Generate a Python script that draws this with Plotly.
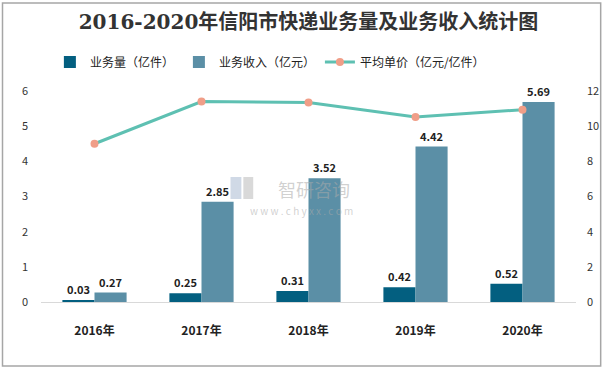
import plotly.graph_objects as go

years = ["2016年", "2017年", "2018年", "2019年", "2020年"]
volume = [0.03, 0.25, 0.31, 0.42, 0.52]
revenue = [0.27, 2.85, 3.52, 4.42, 5.69]
unit_price = [9.0, 11.4, 11.35, 10.52, 10.94]
left_ticks = [0, 1, 2, 3, 4, 5, 6]
right_ticks = [0, 2, 4, 6, 8, 10, 12]

font_cjk = "Noto Sans CJK SC"

L, R, T, B = 41, 28, 91, 67
PW, PH = 611 - L - R, 369 - T - B


def px(x):
    return (x - L) / PW


def py(y):
    return (369 - B - y) / PH


fig = go.Figure()
fig.add_trace(go.Bar(
    x=years, y=volume, name="业务量（亿件）",
    marker=dict(color="#035f80", line=dict(width=0)),
    text=[f"<b>{v:.2f}</b>" for v in volume], textposition="outside",
    textfont=dict(size=11, color="#222", family=font_cjk), cliponaxis=False,
))
fig.add_trace(go.Bar(
    x=years, y=revenue, name="业务收入（亿元）",
    marker=dict(color="#5b8fa6", line=dict(width=0)),
    text=[f"<b>{v:.2f}</b>" for v in revenue], textposition="outside",
    textfont=dict(size=11, color="#222", family=font_cjk), cliponaxis=False,
))
fig.add_trace(go.Scatter(
    x=years, y=unit_price, name="平均单价（亿元/亿件）", yaxis="y2",
    mode="lines+markers",
    line=dict(color="#5ec0b2", width=3),
    marker=dict(color="#f09e88", size=8),
))

fig.update_layout(
    width=611, height=369,
    margin=dict(l=L, r=R, t=T, b=B),
    paper_bgcolor="white", plot_bgcolor="white",
    font=dict(family=font_cjk, size=11, color="#333"),
    title=dict(text="<b>2016-2020年信阳市快递业务量及业务收入统计图</b>",
               x=0.5, xref="paper", xanchor="center",
               y=(369 - 22) / 369, yanchor="middle",
               font=dict(size=20, color="#333", family="DejaVu Serif, " + font_cjk)),
    barmode="group", bargap=0.4, bargroupgap=0,
    showlegend=True,
    legend=dict(orientation="h", x=px(50), xanchor="left", y=py(62), yanchor="middle",
                font=dict(size=12, color="#222"), itemwidth=30, traceorder="normal"),
    xaxis=dict(showgrid=False, showline=True, linecolor="#d9d9d9", linewidth=1,
               ticks="", ticklabelstandoff=18,
               tickfont=dict(size=12, color="#222", family=font_cjk, weight="bold")),
    yaxis=dict(range=[0, 6], tickvals=left_ticks, showgrid=False, zeroline=False,
               showline=False, ticks="", ticklabelstandoff=12,
               tickfont=dict(size=11, color="#333")),
    yaxis2=dict(range=[0, 12], tickvals=right_ticks, overlaying="y", side="right",
                showgrid=False, zeroline=False, showline=False, ticks="",
                ticklabelstandoff=10, tickfont=dict(size=11, color="#333")),
    shapes=[
        dict(type="rect", xref="paper", yref="paper",
             x0=px(2), x1=px(608), y0=py(366), y1=py(3),
             line=dict(color="#a6a6a6", width=1.5), fillcolor="rgba(0,0,0,0)",
             layer="below"),
        # watermark logo
        dict(type="rect", xref="paper", yref="paper",
             x0=px(233), x1=px(244), y0=py(199), y1=py(177),
             line=dict(width=0), fillcolor="rgba(150,170,200,0.45)", layer="below"),
        dict(type="rect", xref="paper", yref="paper",
             x0=px(246), x1=px(256), y0=py(199), y1=py(177),
             line=dict(width=0), fillcolor="rgba(170,170,170,0.45)", layer="below"),
    ],
    annotations=[
        dict(text="智研咨询", xref="paper", yref="paper",
             x=px(318), y=py(189), showarrow=False, borderpad=0,
             font=dict(size=18, color="rgba(170,170,170,0.55)")),
        dict(text="w w w . c h y x x . c o m", xref="paper", yref="paper",
             x=px(305), y=py(210), showarrow=False, borderpad=0,
             font=dict(size=10, color="rgba(170,170,170,0.55)")),
    ],
)

fig.write_html("out.html", config={"displayModeBar": False},
               post_script="document.body.style.margin='0';")
